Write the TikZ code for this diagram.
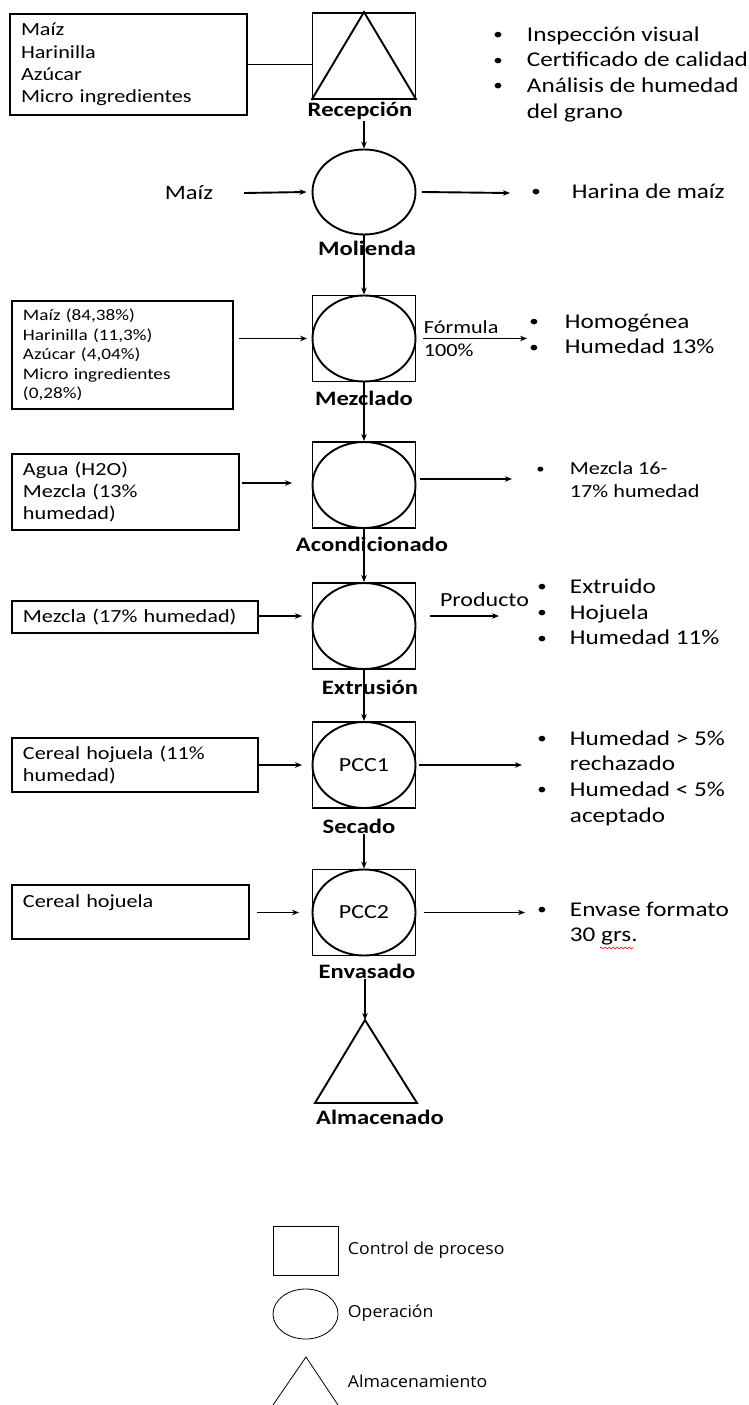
\documentclass[tikz,border=0pt]{standalone}
\usepackage{fontspec}
\usepackage{graphicx}
\setmainfont{Carlito}[FakeStretch=1.2]
\newfontfamily\legfont{Open Sans}[FakeStretch=1.07]
\usetikzlibrary{arrows.meta,shapes.geometric,decorations.pathmorphing}
\newcommand{\bul}[1][35pt]{\makebox[#1][l]{\hspace{1.5pt}\raisebox{1.6pt}{\scalebox{0.75}{\textbullet}}}}

\begin{document}
\begin{tikzpicture}[>={Stealth[length=7pt,width=5.5pt]}, x=1pt, y=-1pt, line width=1.9pt,
  inbox/.style={draw, rectangle, inner xsep=11pt, inner ysep=0pt, align=left, font=\fontsize{18.5}{22.4}\selectfont},
  ctrl/.style={draw, rectangle, minimum width=103pt, minimum height=86pt, inner sep=0pt},
  oper/.style={draw, ellipse, minimum width=103pt, minimum height=86pt, inner sep=0pt, font=\fontsize{20}{24}\selectfont},
  tag/.style={inner sep=0pt, font=\bfseries\fontsize{20.5}{24}\selectfont},
  lbl/.style={inner sep=0pt, font=\fontsize{18.5}{22}\selectfont},
  note/.style={anchor=west, inner sep=0pt, font=\fontsize{21}{25.6}\selectfont},
  leg/.style={line width=0.8pt},
  legtxt/.style={anchor=west, inner sep=0pt, font=\legfont\fontsize{16.5}{20}\selectfont}]
\useasboundingbox (0,0) rectangle (749,1405);

% Recepcion
\node[inbox, minimum width=237pt, minimum height=101pt, text width=215pt] (rec-in) at (128.5,64.5)
  {Maíz\\Harinilla\\Azúcar\\Micro ingredientes};
\node[ctrl] (rec) at (364,56) {};
\draw (rec.south west) -- (rec.north) -- (rec.south east);
\node[tag] (rec-t) at (360,111) {Recepción};
\node[note] (rec-n) at (491,74.5) {\begin{tabular}{@{}l@{}l@{}}
  \bul & Inspección visual\\ \bul & Certificado de calidad\\
  \bul & Análisis de humedad\\ & del grano\end{tabular}};
\draw (rec-in.east) -- (rec-in.east -| rec.west);

% Molienda
\node[oper, minimum height=85pt] (mol) at (364,192) {};
\node[tag] (mol-t) at (367,248) {Molienda};
\node[lbl, font=\fontsize{20.5}{24}\selectfont] (maiz) at (189,193) {Maíz};
\node[note] (mol-n) at (529,193) {\begin{tabular}{@{}l@{}l@{}}\bul[42pt] & Harina de maíz\end{tabular}};
\draw[->] ([xshift=30pt]maiz.east) -- ([xshift=-5pt]mol.west);
\draw[->] ([xshift=5.5pt]mol.east) -- ([xshift=-19pt]mol-n.west);
\draw[->] (rec-t.south -| mol.north) -- (mol.north);

% Mezclado
\node[inbox, minimum width=221pt, minimum height=108pt, text width=199pt, font=\fontsize{16}{19.5}\selectfont] (mez-in) at (122.5,355)
  {Maíz (84,38\%)\\Harinilla (11,3\%)\\Azúcar (4,04\%)\\Micro ingredientes\\(0,28\%)};
\node[ctrl] (mez) at (364,338.5) {};
\node[oper] (mez-o) at (mez) {};
\node[tag] (mez-t) at (364,398) {Mezclado};
\node[note] (mez-n) at (527,336) {\begin{tabular}{@{}l@{}l@{}}
  \bul[37pt] & Homogénea\\ \bul[37pt] & Humedad 13\%\end{tabular}};
\node[lbl, anchor=west] (form) at (423,327) {Fórmula};
\node[lbl, anchor=west] (cien) at (423,350) {100\%};
\draw[->] ([xshift=5pt]mez-in.east |- mez.west) -- ([xshift=-4.5pt]mez.west);
\draw[->] ([xshift=6.5pt]mez.east) -- (mez-n.west |- mez.east);
\draw[->] (mol.south) -- (mol.south |- mez.north);

% Acondicionado
\node[inbox, minimum width=227pt, minimum height=76pt, text width=205pt] (aco-in) at (125.5,492)
  {Agua (H2O)\\Mezcla (13\%\\humedad)};
\node[ctrl] (aco) at (364,485) {};
\node[oper] (aco-o) at (aco) {};
\node[tag] (aco-t) at (372,544) {Acondicionado};
\node[note, font=\fontsize{18.5}{23}\selectfont] (aco-n) at (534,481.5) {\begin{tabular}{@{}l@{}l@{}}
  \bul & Mezcla 16-\\ & 17\% humedad\end{tabular}};
\draw[->] ([xshift=2pt,yshift=2pt]aco-in.east |- aco.west) -- ([xshift=-19.5pt,yshift=2pt]aco.west);
\draw[->] ([xshift=3.5pt,yshift=6pt]aco.east) -- ([xshift=-22pt,yshift=6pt]aco-n.west |- aco.east);
\draw[->] (mez.south) -- (mez.south |- aco.north);

% Extrusion
\node[inbox, minimum width=246pt, minimum height=32pt, text width=224pt] (ext-in) at (135,617)
  {Mezcla (17\% humedad)};
\node[ctrl] (ext) at (364,626) {};
\node[oper] (ext-o) at (ext) {};
\node[tag] (ext-t) at (370,687) {Extrusión};
\node[note] (ext-n) at (535,614) {\begin{tabular}{@{}l@{}l@{}}
  \bul[34pt] & Extruido\\ \bul[34pt] & Hojuela\\ \bul[34pt] & Humedad 11\%\end{tabular}};
\node[lbl, font=\fontsize{20}{24}\selectfont] (prod) at (484.5,600) {Producto};
\draw[->] ([yshift=10pt]ext-in.east |- ext.west) -- ([xshift=-9.5pt,yshift=10pt]ext.west);
\draw[->] ([xshift=13.5pt,yshift=10pt]ext.east) -- ([xshift=-36pt,yshift=10pt]ext-n.west |- ext.east);
\draw[->] (aco.south) -- (aco.south |- ext.north);

% Secado
\node[inbox, minimum width=246pt, minimum height=54pt, text width=224pt] (sec-in) at (135,765)
  {Cereal hojuela (11\%\\humedad)};
\node[ctrl] (sec) at (364,765) {};
\node[oper] (sec-o) at (sec) {PCC1};
\node[tag] (sec-t) at (359,826) {Secado};
\node[note] (sec-n) at (535,778.5) {\begin{tabular}{@{}l@{}l@{}}
  \bul[34pt] & Humedad > 5\%\\ & rechazado\\ \bul[34pt] & Humedad < 5\%\\ & aceptado\end{tabular}};
\draw[->] (sec-in.east |- sec.west) -- ([xshift=-9.5pt]sec.west);
\draw[->] ([xshift=2.5pt]sec.east) -- ([xshift=-13pt]sec-n.west |- sec.east);
\draw[->] (ext.south) -- (sec.north);

% Envasado
\node[inbox, minimum width=237pt, minimum height=54pt, text width=215pt] (env-in) at (130.5,912)
  {Cereal hojuela\\\mbox{}};
\node[ctrl] (env) at (364,912.5) {};
\node[oper] (env-o) at (env) {PCC2};
\node[tag] (env-t) at (367,971) {Envasado};
\node[note] (env-n) at (535,924) {\begin{tabular}{@{}l@{}l@{}}
  \bul[34pt] & Envase formato\\ & 30 grs.\end{tabular}};
\draw[->] ([xshift=7pt]env-in.east |- env.west) -- ([xshift=-12.5pt]env.west);
\draw[->] ([xshift=7.5pt]env.east) -- ([xshift=-10pt]env-n.west |- env.east);
\draw[->] (sec-t.south -| env.north) -- (env.north);
\draw[red, line width=0.6pt, decorate, decoration={snake, amplitude=1pt, segment length=4pt}] (600,948) -- (633,948);

% Almacenado
\coordinate (alm) at (365,1020);
\draw (alm) -- (315,1103) -- (417,1103) -- cycle;
\node[tag] (alm-t) at (380,1117) {Almacenado};
\draw[->] (env-t.south -| alm) -- (alm);

% leyenda
\node[draw, leg, minimum width=65pt, minimum height=49pt] (leg-c) at (305.5,1250.5) {};
\node[legtxt] (leg-ct) at (347,1250) {Control de proceso};
\node[draw, leg, ellipse, minimum width=65pt, minimum height=50pt] (leg-o) at (305.5,1314) {};
\node[legtxt] (leg-ot) at (347,1313) {Operación};
\coordinate (leg-a) at (306,1357);
\draw[leg] (273,1405) -- (leg-a) -- (338,1405);
\node[legtxt] (leg-at) at (347,1381) {Almacenamiento};
\end{tikzpicture}
\end{document}
